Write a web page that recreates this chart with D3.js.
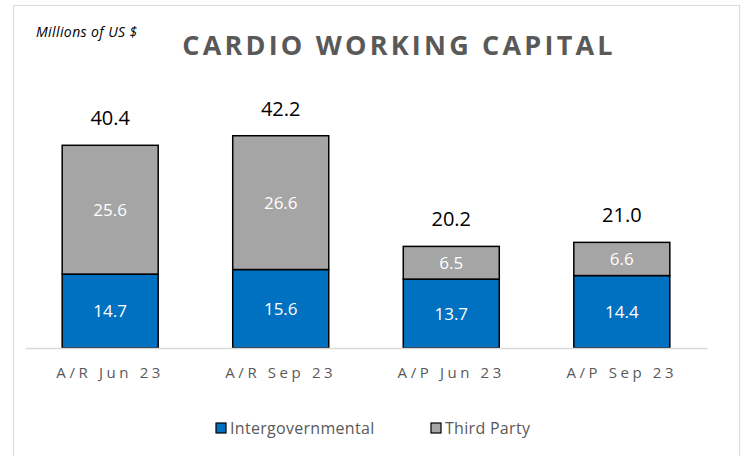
<!DOCTYPE html>
<html>
<head>
<meta charset="utf-8">
<script src="https://cdn.jsdelivr.net/npm/d3@7"></script>
<style>
  body { margin: 0; background: #fff; }
  svg { display: block; }
</style>
</head>
<body>
<div id="chart"></div>
<script>
// chart data
const categories = ["A/R Jun 23", "A/R Sep 23", "A/P Jun 23", "A/P Sep 23"];
const intergovernmental = [14.7, 15.6, 13.7, 14.4];
const thirdParty = [25.6, 26.6, 6.5, 6.6];
const totals = [40.4, 42.2, 20.2, 21.0];
const seriesNames = ["Intergovernmental", "Third Party"];
const seriesColors = ["#0070c0", "#a5a5a5"];

const width = 742, height = 456;
const font = "'Open Sans', 'Liberation Sans', sans-serif";

const svg = d3.select("#chart").append("svg")
  .attr("width", width)
  .attr("height", height);

// outer frame
svg.append("rect")
  .attr("x", 13.5).attr("y", 5.5)
  .attr("width", 726).attr("height", 470)
  .attr("fill", "none")
  .attr("stroke", "#d9d9d9");

const x = d3.scaleBand()
  .domain(categories)
  .range([25, 707])
  .paddingInner(0.437)
  .paddingOuter(0.218);

const y = d3.scaleLinear()
  .domain([0, 45])
  .range([348, 348 - 45 * 5.03]);

// stack rows
const rows = categories.map((c, i) => ({
  cat: c,
  Intergovernmental: intergovernmental[i],
  "Third Party": thirdParty[i]
}));
const stacked = d3.stack().keys(seriesNames)(rows);

const layers = svg.selectAll("g.layer")
  .data(stacked)
  .enter().append("g")
  .attr("class", "layer")
  .attr("fill", (d, i) => seriesColors[i]);

layers.selectAll("rect")
  .data(d => d)
  .enter().append("rect")
  .attr("x", d => x(d.data.cat))
  .attr("y", d => y(d[1]))
  .attr("width", x.bandwidth())
  .attr("height", d => y(d[0]) - y(d[1]))
  .attr("stroke", "#000")
  .attr("stroke-width", 1.5);

// segment labels
layers.selectAll("text")
  .data(d => d)
  .enter().append("text")
  .attr("x", d => x(d.data.cat) + x.bandwidth() / 2)
  .attr("y", d => (y(d[0]) + y(d[1])) / 2)
  .attr("dy", "0.36em")
  .attr("text-anchor", "middle")
  .attr("fill", "#fff")
  .style("font-family", font)
  .style("font-size", "17px")
  .text(d => (d[1] - d[0]).toFixed(1));

// totals above bars
svg.selectAll("text.total")
  .data(categories)
  .enter().append("text")
  .attr("class", "total")
  .attr("x", d => x(d) + x.bandwidth() / 2)
  .attr("y", (d, i) => y(totals[i]) - 20)
  .attr("text-anchor", "middle")
  .attr("fill", "#000")
  .style("font-family", font)
  .style("font-size", "20px")
  .text((d, i) => totals[i].toFixed(1));

// x axis
const xAxis = svg.append("g")
  .attr("transform", "translate(0,348)")
  .call(d3.axisBottom(x).tickSize(0).tickPadding(19));
xAxis.select(".domain").attr("stroke", "#d9d9d9").attr("stroke-width", 1.5);
xAxis.selectAll("text")
  .attr("fill", "#595959")
  .style("font-family", font)
  .style("font-size", "15px")
  .style("letter-spacing", "3.6px");

// title + unit
svg.append("text")
  .attr("x", 399).attr("y", 55)
  .attr("text-anchor", "middle")
  .attr("fill", "#595959")
  .style("font-family", font)
  .style("font-size", "27px")
  .style("font-weight", "bold")
  .style("letter-spacing", "3.2px")
  .text("CARDIO WORKING CAPITAL");

svg.append("text")
  .attr("x", 36).attr("y", 37)
  .attr("fill", "#000")
  .style("font-family", font)
  .style("font-size", "14px")
  .style("font-style", "italic")
  .style("letter-spacing", "0.4px")
  .text("Millions of US $");

// legend
const legendX = [216, 431];
const legend = svg.selectAll("g.legend")
  .data(seriesNames)
  .enter().append("g")
  .attr("class", "legend")
  .attr("transform", (d, i) => `translate(${legendX[i]},428)`);
legend.append("rect")
  .attr("x", 0).attr("y", -5)
  .attr("width", 10).attr("height", 10)
  .attr("fill", (d, i) => seriesColors[i])
  .attr("stroke", "#000")
  .attr("stroke-width", 1.2);
legend.append("text")
  .attr("x", 14).attr("dy", "0.35em")
  .attr("fill", "#595959")
  .style("font-family", font)
  .style("font-size", "16px")
  .style("letter-spacing", "0.3px")
  .text(d => d);
</script>
</body>
</html>
